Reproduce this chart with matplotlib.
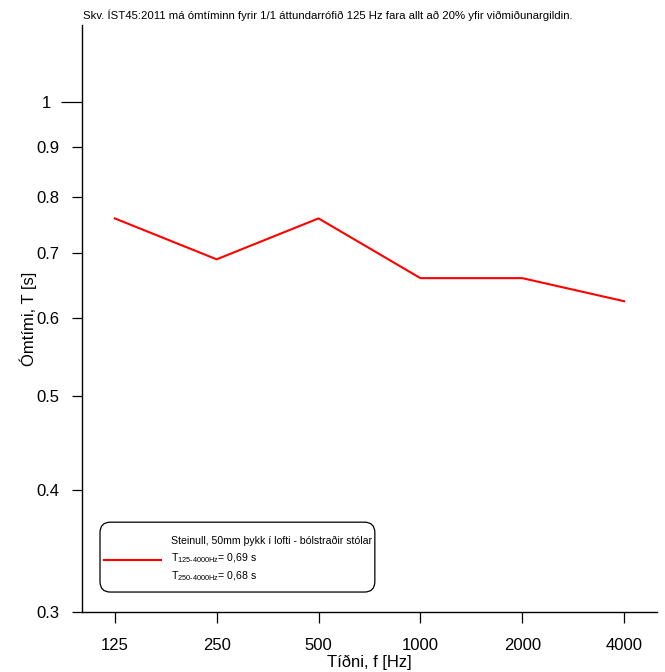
import matplotlib
matplotlib.use("Agg")
import matplotlib.pyplot as plt
import matplotlib.ticker as mticker
from matplotlib.patches import FancyBboxPatch

# data
freqs = [125, 250, 500, 1000, 2000, 4000]
freq_labels = ["125", "250", "500", "1000", "2000", "4000"]
rt = [0.76, 0.69, 0.76, 0.66, 0.66, 0.625]
y_major = [1]
y_minor = [0.3, 0.4, 0.5, 0.6, 0.7, 0.8, 0.9]
y_minor_labels = ["0.3", "0.4", "0.5", "0.6", "0.7", "0.8", "0.9"]

title_txt = ("Skv. ÍST45:2011 má ómtíminn fyrir 1/1 áttundarrófið 125 Hz "
             "fara allt að 20% yfir viðmiðunargildin.")
series_label = ("Steinull, 50mm þykk í lofti - bólstraðir stólar\n"
                "T$_{125\\text{-}4000Hz}$= 0,69 s\n"
                "T$_{250\\text{-}4000Hz}$= 0,68 s")

plt.rcParams["font.family"] = ["Liberation Sans", "DejaVu Sans"]
plt.rcParams["mathtext.fontset"] = "custom"
plt.rcParams["mathtext.rm"] = "Liberation Sans"
plt.rcParams["mathtext.default"] = "rm"

fig = plt.figure(figsize=(6.65, 6.72), dpi=100)
ax = fig.add_axes([82 / 665, 1 - 612 / 672, 575 / 665, 587 / 672])

ax.plot(freqs, rt, color="red", lw=1.5, label=series_label)

ax.set_xscale("log")
ax.set_yscale("log")
ax.set_xlim(100, 5000)
ax.set_ylim(0.3, 1.2)

ax.xaxis.set_major_locator(mticker.FixedLocator(freqs))
ax.xaxis.set_major_formatter(mticker.FixedFormatter(freq_labels))
ax.xaxis.set_minor_locator(mticker.NullLocator())
# "1" gets a long tick, the rest short ones
ax.yaxis.set_major_locator(mticker.FixedLocator(y_major))
ax.yaxis.set_major_formatter(mticker.FixedFormatter(["1"]))
ax.yaxis.set_minor_locator(mticker.FixedLocator(y_minor))
ax.yaxis.set_minor_formatter(mticker.FixedFormatter(y_minor_labels))

for s in ["top", "right"]:
    ax.spines[s].set_visible(False)
for s in ["left", "bottom"]:
    ax.spines[s].set_linewidth(1.0)

ax.tick_params(axis="x", direction="out", length=8, width=0.9,
               labelsize=12, pad=11)
ax.tick_params(axis="y", which="major", direction="out", length=15,
               width=0.9, labelsize=12, pad=7.5)
ax.tick_params(axis="y", which="minor", direction="out", length=7.5,
               width=0.9, labelsize=12, pad=8.5)

ax.set_xlabel("Tíðni, f [Hz]", fontsize=12, labelpad=1)
ax.set_ylabel("Ómtími, T [s]", fontsize=12, labelpad=0)

fig.text(83 / 665, 1 - 15 / 672, title_txt, fontsize=8.2,
         ha="left", va="center")

# legend frame drawn separately so the box size matches
box = FancyBboxPatch((0.0313, 0.034), 0.478, 0.119,
                     boxstyle="round,pad=0,rounding_size=0.018",
                     transform=ax.transAxes, facecolor="white",
                     edgecolor="black", linewidth=0.9, zorder=4)
ax.add_patch(box)

leg = ax.legend(loc="center left", bbox_to_anchor=(0.038, 0.089),
                borderaxespad=0, borderpad=0, frameon=False,
                handlelength=5.4, handletextpad=0.95,
                prop={"family": "Liberation Sans", "size": 7.6})
leg.set_zorder(5)
for t in leg.get_texts():
    t.set_linespacing(1.5)

fig.savefig("out.png", dpi=100)
